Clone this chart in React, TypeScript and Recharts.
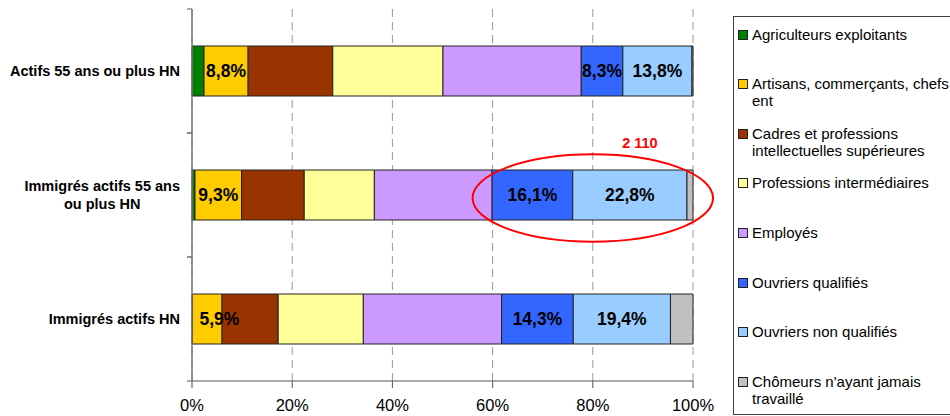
import React from 'react';
import {
  BarChart,
  Bar,
  XAxis,
  YAxis,
  CartesianGrid,
  Legend,
  LabelList,
  ReferenceArea,
} from 'recharts';

// ---- Data ----
const categories = [
  'Actifs 55 ans ou plus HN',
  'Immigrés actifs 55 ans ou plus HN',
  'Immigrés actifs HN',
];
const categoryLines = [
  ['Actifs 55 ans ou plus HN'],
  ['Immigrés actifs 55 ans', 'ou plus HN'],
  ['Immigrés actifs HN'],
];

const agriculteurs = [2.4, 0.6, 0.1];
const artisans = [8.8, 9.3, 5.9];
const cadres = [16.9, 12.5, 11.2];
const intermediaires = [22.0, 14.0, 17.0];
const employes = [27.6, 23.5, 27.6];
const ouvriersQualifies = [8.3, 16.1, 14.3];
const ouvriersNonQualifies = [13.8, 22.8, 19.4];
const chomeurs = [0.2, 1.2, 4.5];

const seriesKeys = ['agr', 'art', 'cad', 'int', 'emp', 'oq', 'onq', 'cho'];
const seriesValues = [
  agriculteurs,
  artisans,
  cadres,
  intermediaires,
  employes,
  ouvriersQualifies,
  ouvriersNonQualifies,
  chomeurs,
];
const seriesNames = [
  'Agriculteurs exploitants',
  'Artisans, commerçants, chefs ent',
  'Cadres et professions intellectuelles supérieures',
  'Professions intermédiaires',
  'Employés',
  'Ouvriers qualifiés',
  'Ouvriers non qualifiés',
  "Chômeurs n'ayant jamais travaillé",
];
const legendLines = [
  ['Agriculteurs exploitants'],
  ['Artisans, commerçants, chefs', 'ent'],
  ['Cadres et professions', 'intellectuelles supérieures'],
  ['Professions intermédiaires'],
  ['Employés'],
  ['Ouvriers qualifiés'],
  ['Ouvriers non qualifiés'],
  ["Chômeurs n'ayant jamais", 'travaillé'],
];
const seriesColors = [
  '#008000',
  '#FFCC00',
  '#993300',
  '#FFFF99',
  '#CC99FF',
  '#3366FF',
  '#99CCFF',
  '#C0C0C0',
];
const labelledSeries = ['art', 'oq', 'onq'];

const xTicks = [0, 20, 40, 60, 80, 100];

const highlightCategory = categories[1];
const highlightFrom = 56;
const highlightTo = 104;
const highlightLabel = '2 110';

const data = categories.map((name, i) => {
  const row: Record<string, any> = { name };
  seriesKeys.forEach((k, s) => {
    row[k] = seriesValues[s][i];
  });
  return row;
});

// ---- Styling helpers ----
const FONT = "Arial, 'Liberation Sans', sans-serif";
const Y_TICK_SIZE = 6;
const Y_TICK_MARGIN = 6;

let measureCtx: CanvasRenderingContext2D | null = null;
const measure = (text: string, font: string) => {
  if (!measureCtx) {
    const c = document.createElement('canvas');
    measureCtx = c.getContext('2d');
  }
  if (!measureCtx) return text.length * 8;
  measureCtx.font = font;
  return measureCtx.measureText(text).width;
};

const fmtPct = (v: any) => `${Number(v).toFixed(1).replace('.', ',')}%`;

const CategoryTick = (props: any) => {
  const { x, y, payload } = props;
  const idx = categories.indexOf(payload.value);
  const lines = idx >= 0 ? categoryLines[idx] : [String(payload.value)];
  const font = `bold 14.5px ${FONT}`;
  const w = Math.max(...lines.map((l) => measure(l, font)));
  const cx = x - w / 2;
  const lh = 17.5;
  const startY = y - ((lines.length - 1) * lh) / 2;
  const axisX = x + Y_TICK_SIZE + Y_TICK_MARGIN;
  const axisH = Number(props.height) || 372;
  const half = axisH / categories.length / 2;
  return (
    <g>
      <line x1={axisX - 5} x2={axisX} y1={y - half} y2={y - half} stroke="#777" strokeWidth={1.2} />
      <line x1={axisX - 5} x2={axisX} y1={y + half} y2={y + half} stroke="#777" strokeWidth={1.2} />
      <text
        x={cx}
        y={startY}
        textAnchor="middle"
        dominantBaseline="central"
        fontFamily={FONT}
        fontSize={14.5}
        fontWeight="bold"
        fill="#000"
      >
        {lines.map((l, i) => (
          <tspan key={i} x={cx} y={startY + i * lh} dominantBaseline="central">
            {l}
          </tspan>
        ))}
      </text>
    </g>
  );
};

const SegmentLabel = (props: any) => {
  const vb = props.viewBox && props.viewBox.width != null ? props.viewBox : props;
  const { x, y, width, height } = vb;
  if (x == null || props.value == null) return null;
  const text = fmtPct(props.value);
  const w = measure(text, `bold 17.5px ${FONT}`);
  let cx = x + width / 2;
  if (w > width) cx = x + 7 + w / 2;
  return (
    <text
      x={cx}
      y={y + height / 2}
      textAnchor="middle"
      dominantBaseline="central"
      fontFamily={FONT}
      fontSize={17.5}
      fontWeight="bold"
      fill="#000"
    >
      {text}
    </text>
  );
};

const HighlightShape = (props: any) => {
  const { x, y, width, height } = props;
  const cx = x + width / 2;
  const cy = y + height / 2 + 3;
  return (
    <g>
      <ellipse
        cx={cx}
        cy={cy}
        rx={width / 2}
        ry={height * 0.352}
        fill="none"
        stroke="#FF0000"
        strokeWidth={2}
      />
      <text
        x={cx + width * 0.196}
        y={cy - height * 0.44}
        textAnchor="middle"
        dominantBaseline="central"
        fontFamily={FONT}
        fontSize={14.5}
        fontWeight="bold"
        fill="#FF0000"
      >
        {highlightLabel}
      </text>
    </g>
  );
};

const renderLegend = () => (
  <div
    style={{
      position: 'relative',
      width: 230,
      height: 399,
      border: '1px solid #404040',
      boxSizing: 'border-box',
      background: '#fff',
      fontFamily: FONT,
      fontSize: 15,
      color: '#000',
    }}
  >
    {legendLines.map((lines, i) => (
      <div
        key={seriesKeys[i]}
        style={{ position: 'absolute', left: 0, top: 8.5 + i * 49.6, lineHeight: '17px' }}
      >
        <span
          style={{
            position: 'absolute',
            left: 4,
            top: 4,
            width: 8,
            height: 8,
            background: seriesColors[i],
            border: '1px solid #222',
          }}
        />
        {lines.map((l, j) => (
          <div key={j} style={{ marginLeft: 18, whiteSpace: 'nowrap' }}>
            {l}
          </div>
        ))}
      </div>
    ))}
  </div>
);

export default function App() {
  return (
    <div
      style={{
        position: 'absolute',
        left: 0,
        top: 0,
        width: 950,
        height: 416,
        overflow: 'hidden',
        background: '#fff',
      }}
    >
      <BarChart
        width={950}
        height={416}
        data={data}
        layout="vertical"
        margin={{ top: 9, right: 257, bottom: 0, left: 0 }}
      >
        <CartesianGrid
          horizontal={false}
          vertical={true}
          stroke="#999"
          strokeDasharray="8 5"
        />
        <XAxis
          type="number"
          domain={[0, 100]}
          ticks={xTicks}
          interval={0}
          tickFormatter={(v: any) => `${v}%`}
          height={35}
          tickSize={7}
          tickMargin={11}
          axisLine={{ stroke: '#555' }}
          tickLine={{ stroke: '#555' }}
          tick={{ fill: '#000', fontSize: 16.5, fontFamily: FONT }}
        />
        <YAxis
          type="category"
          dataKey="name"
          width={192}
          tickLine={false}
          tickSize={Y_TICK_SIZE}
          tickMargin={Y_TICK_MARGIN}
          axisLine={{ stroke: '#777', strokeWidth: 1.5 }}
          tick={<CategoryTick />}
          interval={0}
        />
        <Legend
          layout="horizontal"
          align="center"
          verticalAlign="middle"
          content={renderLegend}
          wrapperStyle={{ left: 733, top: 16, width: 230, height: 399 }}
        />
        {seriesKeys.map((k, s) => (
          <Bar
            key={k}
            dataKey={k}
            name={seriesNames[s]}
            stackId="a"
            fill={seriesColors[s]}
            stroke="#222"
            strokeWidth={1}
            barSize={50}
            isAnimationActive={false}
          >
            {labelledSeries.includes(k) && (
              <LabelList dataKey={k} position="center" content={<SegmentLabel />} />
            )}
          </Bar>
        ))}
        <ReferenceArea
          x1={highlightFrom}
          x2={highlightTo}
          y1={highlightCategory}
          y2={highlightCategory}
          ifOverflow="visible"
          isFront
          zIndex={1500}
          shape={<HighlightShape />}
        />
      </BarChart>
    </div>
  );
}
